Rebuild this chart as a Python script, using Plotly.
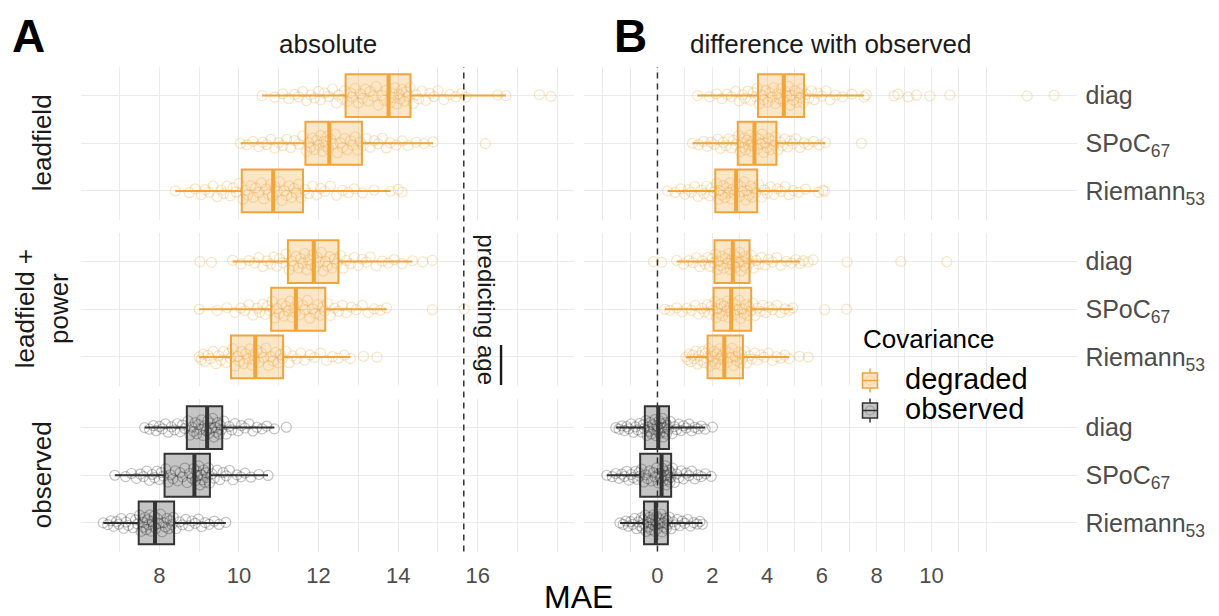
import plotly.graph_objects as go

# ---------------- data ----------------
category_labels = ["diag", "SPoC<sub>67</sub>", "Riemann<sub>53</sub>"]
category_pos = [3, 2, 1]
row_titles = ["leadfield", "leadfield +<br>power", "observed"]
col_titles = ["absolute", "difference with observed"]
panel_letters = ["A", "B"]
row_groups = ["degraded", "degraded", "observed"]
legend_title = "Covariance"
legend_groups = ["degraded", "observed"]
abs_tick_labels = [8, 10, 12, 14, 16]
diff_tick_labels = [0, 2, 4, 6, 8, 10]
abs_grid = list(range(7, 19))
diff_grid = list(range(-2, 13))
chance_level_mae = 15.65
diff_reference = 0

# ---- absolute MAE: leadfield ----
abs_lf_diag = [10.58, 10.9, 11.1, 11.25, 11.4, 11.5, 11.6, 11.7, 11.8, 11.9, 12.0, 12.05, 12.15, 12.25,
               12.35, 12.45, 12.5, 12.6, 12.65,
               12.72, 12.8, 12.85, 12.92, 13.0, 13.05, 13.1, 13.18, 13.25, 13.3, 13.38, 13.45, 13.5,
               13.58, 13.65, 13.7,
               13.8, 13.84, 13.88, 13.92, 13.97, 14.02, 14.06, 14.1, 14.15, 14.2, 14.25, 14.3,
               14.38, 14.45, 14.52, 14.6, 14.7, 14.8, 14.9, 15.0, 15.15, 15.3, 15.45, 15.6, 15.7,
               16.5, 16.71, 17.55, 17.84]
abs_lf_spoc = [10.04, 10.2, 10.35, 10.5, 10.6, 10.7, 10.8, 10.9, 11.0, 11.1, 11.2, 11.3, 11.4, 11.5, 11.6,
               11.7, 11.75, 11.8, 11.85, 11.9, 11.95, 12.0, 12.05, 12.1, 12.14, 12.18, 12.22, 12.25,
               12.3, 12.36, 12.42, 12.48, 12.55, 12.6, 12.66, 12.72, 12.8, 12.86, 12.92, 12.98, 13.05,
               13.12, 13.2, 13.3, 13.4, 13.5, 13.6, 13.7, 13.8, 13.95, 14.1, 14.25, 14.45, 14.65,
               14.88, 16.19]
abs_lf_riem = [8.40, 8.75, 8.9, 9.05, 9.15, 9.25, 9.35, 9.45, 9.55, 9.62, 9.7, 9.78, 9.85, 9.93, 10.0,
               10.1, 10.16, 10.22, 10.3, 10.36, 10.42, 10.5, 10.56, 10.62, 10.68, 10.74, 10.8, 10.84,
               10.9, 10.96, 11.02, 11.08, 11.14, 11.2, 11.26, 11.32, 11.38, 11.44, 11.5, 11.56,
               11.66, 11.75, 11.85, 11.95, 12.05, 12.15, 12.3, 12.45, 12.6, 12.75, 12.9, 13.1, 13.4,
               13.81, 14.0, 14.1]
abs_lf_q1 = [12.68, 11.67, 10.07]
abs_lf_med = [13.76, 12.27, 10.86]
abs_lf_q3 = [14.31, 13.09, 11.61]
abs_lf_lo = [10.58, 10.04, 8.40]
abs_lf_hi = [16.71, 14.88, 13.81]

# ---- absolute MAE: leadfield + power ----
abs_lp_diag = [9.02, 9.31, 9.84, 10.05, 10.25, 10.4, 10.5, 10.6, 10.7, 10.8, 10.88, 10.95, 11.02, 11.1,
               11.18,
               11.26, 11.32, 11.38, 11.44, 11.5, 11.55, 11.6, 11.65, 11.7, 11.75, 11.8, 11.85,
               11.92, 11.97, 12.02, 12.07, 12.12, 12.17, 12.22, 12.28, 12.34, 12.4, 12.46,
               12.55, 12.62, 12.7, 12.8, 12.9, 13.0, 13.1, 13.2, 13.3, 13.45, 13.6, 13.75, 13.9, 14.1,
               14.36, 14.62, 14.86]
abs_lp_spoc = [9.0, 9.45, 9.7, 9.9, 10.05, 10.15, 10.25, 10.35, 10.45, 10.52, 10.6, 10.66, 10.72, 10.78,
               10.84, 10.9, 10.96, 11.02, 11.08, 11.13, 11.18, 11.23, 11.28, 11.33, 11.38, 11.41,
               11.47, 11.53, 11.6, 11.66, 11.72, 11.78, 11.85, 11.92, 11.98, 12.04, 12.1, 12.15,
               12.22, 12.3, 12.4, 12.5, 12.6, 12.7, 12.82, 12.95, 13.1, 13.25, 13.4, 13.55, 13.71,
               14.86, 15.66]
abs_lp_riem = [9.0, 9.05, 9.1, 9.15, 9.22, 9.28, 9.35, 9.42, 9.48, 9.55, 9.62, 9.68, 9.74, 9.78,
               9.84, 9.9, 9.96, 10.02, 10.07, 10.12, 10.17, 10.22, 10.27, 10.32, 10.36, 10.39,
               10.45, 10.5, 10.56, 10.62, 10.68, 10.74, 10.8, 10.86, 10.92, 10.98, 11.04, 11.09,
               11.18, 11.26, 11.35, 11.45, 11.55, 11.65, 11.78, 11.9, 12.05, 12.2, 12.35, 12.5, 12.65,
               12.8, 13.13, 13.47]
abs_lp_q1 = [11.23, 10.81, 9.80]
abs_lp_med = [11.88, 11.43, 10.41]
abs_lp_q3 = [12.50, 12.17, 11.11]
abs_lp_lo = [9.84, 9.00, 9.00]
abs_lp_hi = [14.36, 13.71, 12.80]

# ---- absolute MAE: observed ----
abs_ob_diag = [7.63, 7.75, 7.85, 7.92, 8.0, 8.08, 8.15, 8.22, 8.3, 8.38, 8.45, 8.52, 8.58, 8.64,
               8.72, 8.77, 8.82, 8.86, 8.9, 8.94, 8.98, 9.02, 9.06, 9.1, 9.14, 9.18,
               9.22, 9.25, 9.28, 9.31, 9.34, 9.37, 9.4, 9.43, 9.46, 9.5, 9.53, 9.56,
               9.62, 9.68, 9.75, 9.82, 9.9, 9.98, 10.06, 10.15, 10.25, 10.35, 10.45, 10.58, 10.7,
               10.89, 11.19]
abs_ob_spoc = [6.88, 7.15, 7.3, 7.42, 7.52, 7.6, 7.68, 7.75, 7.82, 7.88, 7.94, 8.0, 8.05, 8.1,
               8.16, 8.22, 8.28, 8.34, 8.4, 8.46, 8.52, 8.58, 8.64, 8.7, 8.76, 8.82, 8.86,
               8.9, 8.93, 8.96, 8.99, 9.02, 9.05, 9.08, 9.11, 9.14, 9.17, 9.2, 9.23, 9.26,
               9.32, 9.38, 9.45, 9.52, 9.6, 9.68, 9.76, 9.85, 9.95, 10.05, 10.15, 10.3, 10.5, 10.73]
abs_ob_riem = [6.59, 6.7, 6.78, 6.85, 6.92, 6.98, 7.04, 7.1, 7.16, 7.22, 7.28, 7.34, 7.4, 7.45,
               7.5, 7.54, 7.58, 7.61, 7.64, 7.67, 7.7, 7.73, 7.76, 7.79, 7.82, 7.85, 7.87,
               7.91, 7.95, 7.99, 8.03, 8.07, 8.11, 8.15, 8.19, 8.23, 8.27, 8.31, 8.35,
               8.42, 8.5, 8.58, 8.66, 8.74, 8.82, 8.9, 8.98, 9.06, 9.15, 9.25, 9.38, 9.5, 9.67]
abs_ob_q1 = [8.69, 8.13, 7.48]
abs_ob_med = [9.20, 8.88, 7.89]
abs_ob_q3 = [9.58, 9.27, 8.37]
abs_ob_lo = [7.63, 6.88, 6.59]
abs_ob_hi = [10.89, 10.73, 9.67]

# ---- difference with observed: leadfield ----
dif_lf_diag = [1.46, 1.9, 2.15, 2.35, 2.55, 2.7, 2.85, 2.98, 3.1, 3.2, 3.3, 3.4, 3.5, 3.58, 3.64,
               3.72, 3.8, 3.88, 3.95, 4.02, 4.1, 4.17, 4.24, 4.31, 4.38, 4.45, 4.52, 4.58,
               4.66, 4.72, 4.78, 4.84, 4.9, 4.96, 5.02, 5.08, 5.14, 5.2, 5.26, 5.32,
               5.42, 5.52, 5.62, 5.72, 5.85, 6.0, 6.15, 6.3, 6.5, 6.75, 7.1, 7.54,
               7.62, 8.63, 8.78, 9.15, 9.45, 9.94, 10.67, 13.49, 14.47]
dif_lf_spoc = [1.28, 1.5, 1.68, 1.82, 1.95, 2.08, 2.2, 2.3, 2.4, 2.5, 2.6, 2.7, 2.78, 2.86,
               2.97, 3.02, 3.07, 3.12, 3.17, 3.22, 3.27, 3.32, 3.37, 3.42, 3.47, 3.51,
               3.58, 3.64, 3.7, 3.76, 3.82, 3.88, 3.94, 4.0, 4.06, 4.12, 4.18, 4.24, 4.3,
               4.4, 4.48, 4.56, 4.65, 4.75, 4.85, 4.95, 5.05, 5.2, 5.35, 5.5, 5.7, 5.9, 6.13, 7.44]
dif_lf_riem = [0.37, 0.65, 0.85, 1.0, 1.12, 1.24, 1.36, 1.48, 1.6, 1.7, 1.8, 1.9, 1.98, 2.06,
               2.16, 2.22, 2.28, 2.34, 2.4, 2.46, 2.52, 2.58, 2.64, 2.7, 2.76, 2.82,
               2.92, 2.98, 3.04, 3.1, 3.16, 3.22, 3.28, 3.34, 3.4, 3.46, 3.52, 3.58,
               3.7, 3.8, 3.9, 4.0, 4.12, 4.25, 4.38, 4.52, 4.66, 4.8, 4.95, 5.15, 5.4, 5.88,
               6.03, 6.1]
dif_lf_q1 = [3.67, 2.93, 2.11]
dif_lf_med = [4.61, 3.54, 2.87]
dif_lf_q3 = [5.35, 4.34, 3.64]
dif_lf_lo = [1.46, 1.28, 0.37]
dif_lf_hi = [7.54, 6.13, 5.88]

# ---- difference with observed: leadfield + power ----
dif_lp_diag = [-0.15, 0.15, 0.70, 0.95, 1.15, 1.3, 1.42, 1.54, 1.64, 1.74, 1.84, 1.92, 2.0, 2.05,
               2.12, 2.18, 2.24, 2.3, 2.36, 2.42, 2.48, 2.54, 2.6, 2.66, 2.7, 2.73,
               2.8, 2.85, 2.9, 2.95, 3.0, 3.05, 3.1, 3.15, 3.2, 3.25, 3.3, 3.34,
               3.42, 3.5, 3.6, 3.7, 3.8, 3.92, 4.05, 4.2, 4.35, 4.5, 4.7, 4.9, 5.05, 5.2,
               5.32, 5.5, 5.68, 6.92, 8.88, 10.56]
dif_lp_spoc = [0.27, 0.45, 0.7, 0.9, 1.08, 1.24, 1.38, 1.5, 1.62, 1.72, 1.82, 1.9, 1.97, 2.02,
               2.1, 2.15, 2.2, 2.26, 2.32, 2.38, 2.44, 2.5, 2.55, 2.6, 2.64, 2.67,
               2.74, 2.8, 2.86, 2.92, 2.98, 3.04, 3.1, 3.16, 3.22, 3.28, 3.34, 3.4,
               3.48, 3.56, 3.65, 3.75, 3.85, 3.95, 4.07, 4.2, 4.35, 4.5, 4.65, 4.8, 4.94, 6.10, 6.90]
dif_lp_riem = [1.04, 1.1, 1.16, 1.22, 1.28, 1.34, 1.4, 1.46, 1.52, 1.58, 1.64, 1.7, 1.75, 1.8,
               1.87, 1.92, 1.97, 2.02, 2.07, 2.12, 2.17, 2.22, 2.27, 2.32, 2.37, 2.41,
               2.48, 2.54, 2.6, 2.66, 2.72, 2.78, 2.84, 2.9, 2.96, 3.02, 3.07, 3.1,
               3.18, 3.26, 3.35, 3.45, 3.55, 3.65, 3.77, 3.9, 4.05, 4.2, 4.35, 4.5, 4.65, 4.8,
               5.18, 5.5]
dif_lp_q1 = [2.08, 2.05, 1.83]
dif_lp_med = [2.75, 2.69, 2.44]
dif_lp_q3 = [3.36, 3.42, 3.12]
dif_lp_lo = [0.70, 0.27, 1.04]
dif_lp_hi = [5.20, 4.94, 4.80]

# ---- difference with observed: observed ----
dif_ob_diag = [-1.52, -1.4, -1.3, -1.2, -1.12, -1.04, -0.96, -0.88, -0.8, -0.72, -0.65, -0.58, -0.52,
               -0.48,
               -0.42, -0.38, -0.34, -0.3, -0.26, -0.22, -0.18, -0.14, -0.1, -0.06, -0.02, 0.01,
               0.06, 0.09, 0.12, 0.15, 0.18, 0.21, 0.24, 0.27, 0.3, 0.33, 0.36, 0.4,
               0.47, 0.54, 0.62, 0.7, 0.78, 0.86, 0.95, 1.05, 1.15, 1.25, 1.36, 1.48, 1.6, 1.74, 2.01]
dif_ob_spoc = [-1.85, -1.65, -1.52, -1.4, -1.3, -1.2, -1.12, -1.04, -0.96, -0.88, -0.8, -0.74, -0.68,
               -0.65,
               -0.58, -0.5, -0.43, -0.36, -0.29, -0.22, -0.15, -0.09, -0.03, 0.03, 0.08, 0.12,
               0.18, 0.21, 0.24, 0.27, 0.3, 0.33, 0.36, 0.39, 0.42, 0.45, 0.47, 0.49,
               0.55, 0.62, 0.7, 0.78, 0.86, 0.95, 1.05, 1.15, 1.25, 1.36, 1.48, 1.6, 1.75, 1.96]
dif_ob_riem = [-1.37, -1.25, -1.15, -1.06, -0.98, -0.9, -0.83, -0.76, -0.7, -0.64, -0.59, -0.55, -0.52,
               -0.5,
               -0.45, -0.41, -0.37, -0.33, -0.29, -0.25, -0.21, -0.17, -0.14, -0.11, -0.08, -0.07,
               -0.03, 0.01, 0.05, 0.09, 0.13, 0.17, 0.21, 0.25, 0.29, 0.32, 0.35, 0.37,
               0.43, 0.5, 0.57, 0.65, 0.73, 0.81, 0.9, 1.0, 1.1, 1.2, 1.32, 1.45, 1.55, 1.64]
dif_ob_q1 = [-0.46, -0.63, -0.49]
dif_ob_med = [0.03, 0.15, -0.06]
dif_ob_q3 = [0.42, 0.50, 0.38]
dif_ob_lo = [-1.52, -1.85, -1.37]
dif_ob_hi = [1.74, 1.96, 1.64]

# ---------------- styling / layout ----------------
W, H = 1219, 616
FONT = "Liberation Sans"
col_px = [(81, 574), (584, 1076.5)]
row_px = [(67, 219.5), (233, 385.5), (399, 551.5)]
col_ranges = [[6.03, 18.42], [-2.68, 15.29]]
y_range = [0.4, 3.6]
box_width = 0.9
colors = {
    "degraded": dict(line="rgb(240,164,58)", fill="rgba(240,164,58,0.28)",
                     pts="rgba(240,164,58,0.30)"),
    "observed": dict(line="rgb(51,51,51)", fill="rgba(140,140,140,0.5)",
                     pts="rgba(40,40,40,0.28)"),
}
GRID = "#EBEBEB"

panels = [
    (0, 0, [abs_lf_diag, abs_lf_spoc, abs_lf_riem], abs_lf_q1, abs_lf_med, abs_lf_q3, abs_lf_lo, abs_lf_hi),
    (0, 1, [dif_lf_diag, dif_lf_spoc, dif_lf_riem], dif_lf_q1, dif_lf_med, dif_lf_q3, dif_lf_lo, dif_lf_hi),
    (1, 0, [abs_lp_diag, abs_lp_spoc, abs_lp_riem], abs_lp_q1, abs_lp_med, abs_lp_q3, abs_lp_lo, abs_lp_hi),
    (1, 1, [dif_lp_diag, dif_lp_spoc, dif_lp_riem], dif_lp_q1, dif_lp_med, dif_lp_q3, dif_lp_lo, dif_lp_hi),
    (2, 0, [abs_ob_diag, abs_ob_spoc, abs_ob_riem], abs_ob_q1, abs_ob_med, abs_ob_q3, abs_ob_lo, abs_ob_hi),
    (2, 1, [dif_ob_diag, dif_ob_spoc, dif_ob_riem], dif_ob_q1, dif_ob_med, dif_ob_q3, dif_ob_lo, dif_ob_hi),
]


def vdc(k):
    """van der Corput position in [0, 1) used as a deterministic quasirandom spread."""
    v, denom = 0.0, 1.0
    while k:
        denom *= 2
        k, rem = divmod(k, 2)
        v += rem / denom
    return v


def quasirandom_offsets(values, spread=0.21):
    """Density-scaled deterministic offsets (like ggbeeswarm::geom_quasirandom)."""
    n = len(values)
    srt = sorted(values)
    mean = sum(values) / n
    sd = (sum((v - mean) ** 2 for v in values) / n) ** 0.5
    iqr = srt[int(0.75 * n)] - srt[int(0.25 * n)]
    bw = 0.9 * min(sd, iqr / 1.34) * n ** (-0.2)
    dens = [sum(2.718281828 ** (-0.5 * ((v - w) / bw) ** 2) for w in values) for v in values]
    dmax = max(dens)
    order = sorted(range(n), key=lambda i: values[i])
    offs = [0.0] * n
    for rank, i in enumerate(order):
        offs[i] = spread * (dens[i] / dmax) * (2 * vdc(rank + 1) - 1)
    return offs


fig = go.Figure()
layout_axes = {}

for r, c, pts_list, q1, med, q3, lo, hi in panels:
    n = r * 2 + c + 1
    xa = "x" if n == 1 else f"x{n}"
    ya = "y" if n == 1 else f"y{n}"
    group = row_groups[r]
    col = colors[group]

    fig.add_trace(go.Box(
        y=category_pos, q1=q1, median=med, q3=q3, lowerfence=lo, upperfence=hi,
        orientation="h", width=box_width, whiskerwidth=0, boxpoints=False,
        line=dict(color=col["line"], width=2), fillcolor=col["fill"],
        name=group, showlegend=False, xaxis=xa, yaxis=ya, hoverinfo="skip",
    ))

    xs, ys = [], []
    for pos, vals in zip(category_pos, pts_list):
        offs = quasirandom_offsets(vals)
        xs += vals
        ys += [pos + o for o in offs]
    fig.add_trace(go.Scatter(
        x=xs, y=ys, mode="markers", xaxis=xa, yaxis=ya, showlegend=False, hoverinfo="skip",
        marker=dict(symbol="circle-open", size=10, color=col["pts"], line=dict(width=1.2)),
    ))

    mx, my = [], []
    for pos, m in zip(category_pos, med):
        mx += [m, m, None]
        my += [pos - box_width / 2, pos + box_width / 2, None]
    fig.add_trace(go.Scatter(
        x=mx, y=my, mode="lines", xaxis=xa, yaxis=ya, showlegend=False,
        hoverinfo="skip", line=dict(color=col["line"], width=4),
    ))

    bottom = r == 2
    grid_vals = abs_grid if c == 0 else diff_grid
    tick_labels = abs_tick_labels if c == 0 else diff_tick_labels
    layout_axes["xaxis" if n == 1 else f"xaxis{n}"] = dict(
        domain=[col_px[c][0] / W, col_px[c][1] / W], range=col_ranges[c],
        anchor=ya, showgrid=True, gridcolor=GRID, gridwidth=1.4, zeroline=False,
        showline=False, ticks="", tickmode="array", tickvals=tick_labels,
        ticktext=[str(v) for v in tick_labels],
        minor=dict(tickmode="array", tickvals=[v for v in grid_vals if v not in tick_labels],
                   showgrid=True, gridcolor=GRID, gridwidth=1.4, ticks=""),
        showticklabels=bottom, ticklabelstandoff=8,
        tickfont=dict(family=FONT, size=22, color="#4D4D4D"), fixedrange=True,
    )
    layout_axes["yaxis" if n == 1 else f"yaxis{n}"] = dict(
        domain=[1 - row_px[r][1] / H, 1 - row_px[r][0] / H], range=y_range,
        anchor=xa, showgrid=True, gridcolor=GRID, gridwidth=1.4, zeroline=False,
        showline=False, ticks="", tickmode="array", tickvals=category_pos,
        ticktext=category_labels, showticklabels=(c == 1), side="right",
        ticklabelstandoff=8,
        tickfont=dict(family=FONT, size=25, color="#4D4D4D"), fixedrange=True,
    )

fig.update_layout(**layout_axes)

# reference lines spanning all rows
y_lo = 1 - row_px[2][1] / H
y_hi = 1 - row_px[0][0] / H
for xref, xv in (("x", chance_level_mae), ("x2", diff_reference)):
    fig.add_shape(type="line", xref=xref, yref="paper", x0=xv, x1=xv, y0=y_lo, y1=y_hi,
                  line=dict(color="#333333", width=1.5, dash="6px,5px"))


def px(x):
    return x / W


def py(y):
    return 1 - y / H


# legend (ggplot-style keys)
legend_left = 862.5
key_w = 15
for group, yc in zip(legend_groups, (380.5, 410.5)):
    col = colors[group]
    xc = legend_left + key_w / 2
    fig.add_shape(type="rect", xref="paper", yref="paper", x0=px(legend_left), x1=px(legend_left + key_w),
                  y0=py(yc - 7.5), y1=py(yc + 7.5), fillcolor=col["fill"],
                  line=dict(color=col["line"], width=1.5))
    for a, b in ((yc - 12, yc - 7.5), (yc + 7.5, yc + 12)):
        fig.add_shape(type="line", xref="paper", yref="paper", x0=px(xc), x1=px(xc), y0=py(a), y1=py(b),
                      line=dict(color=col["line"], width=1.5))
    fig.add_shape(type="line", xref="paper", yref="paper", x0=px(legend_left), x1=px(legend_left + key_w),
                  y0=py(yc), y1=py(yc), line=dict(color=col["line"], width=1.5))
    fig.add_shape(type="circle", xref="paper", yref="paper", x0=px(xc - 4.5), x1=px(xc + 4.5),
                  y0=py(yc - 4.5), y1=py(yc + 4.5), line=dict(color=col["pts"], width=1.2))

ann = []
ann.append(dict(text=legend_title, x=px(861), y=py(339), xref="paper", yref="paper", showarrow=False,
                xanchor="left", yanchor="middle", font=dict(family=FONT, size=26, color="black")))
for group, yc in zip(legend_groups, (379, 409)):
    ann.append(dict(text=group, x=px(903), y=py(yc), xref="paper", yref="paper", showarrow=False,
                    xanchor="left", yanchor="middle", font=dict(family=FONT, size=29, color="black")))
for letter, xc in zip(panel_letters, (29, 631)):
    ann.append(dict(text=f"<b>{letter}</b>", x=px(xc), y=py(36), xref="paper", yref="paper",
                    showarrow=False, xanchor="center", yanchor="middle",
                    font=dict(family=FONT, size=46, color="black")))
for title, (x0, x1) in zip(col_titles, col_px):
    ann.append(dict(text=title, x=px((x0 + x1) / 2), y=py(44), xref="paper", yref="paper",
                    showarrow=False, xanchor="center", yanchor="middle",
                    font=dict(family=FONT, size=26, color="#1A1A1A")))
for title, (y0, y1) in zip(row_titles, row_px):
    ann.append(dict(text=title, x=px(42), y=py((y0 + y1) / 2), xref="paper", yref="paper",
                    showarrow=False, xanchor="center", yanchor="middle", textangle=-90,
                    font=dict(family=FONT, size=26, color="#1A1A1A")))
ann.append(dict(text='predicting <span style="text-decoration:overline">age</span>',
                x=px(487), y=py((row_px[1][0] + row_px[1][1]) / 2), xref="paper", yref="paper",
                showarrow=False, xanchor="center", yanchor="middle", textangle=90,
                font=dict(family=FONT, size=24, color="#1A1A1A")))
ann.append(dict(text="MAE", x=px(578), y=0, xref="paper", yref="paper",
                showarrow=False, xanchor="center", yanchor="bottom", borderpad=0,
                font=dict(family=FONT, size=32, color="black")))

fig.update_layout(
    width=W, height=H, margin=dict(l=0, r=0, t=0, b=0),
    paper_bgcolor="white", plot_bgcolor="white",
    font=dict(family=FONT, color="black"),
    annotations=ann, boxmode="overlay", showlegend=False,
)

fig.write_html("out.html", config={"displayModeBar": False},
               post_script="document.body.style.margin='0px';")
